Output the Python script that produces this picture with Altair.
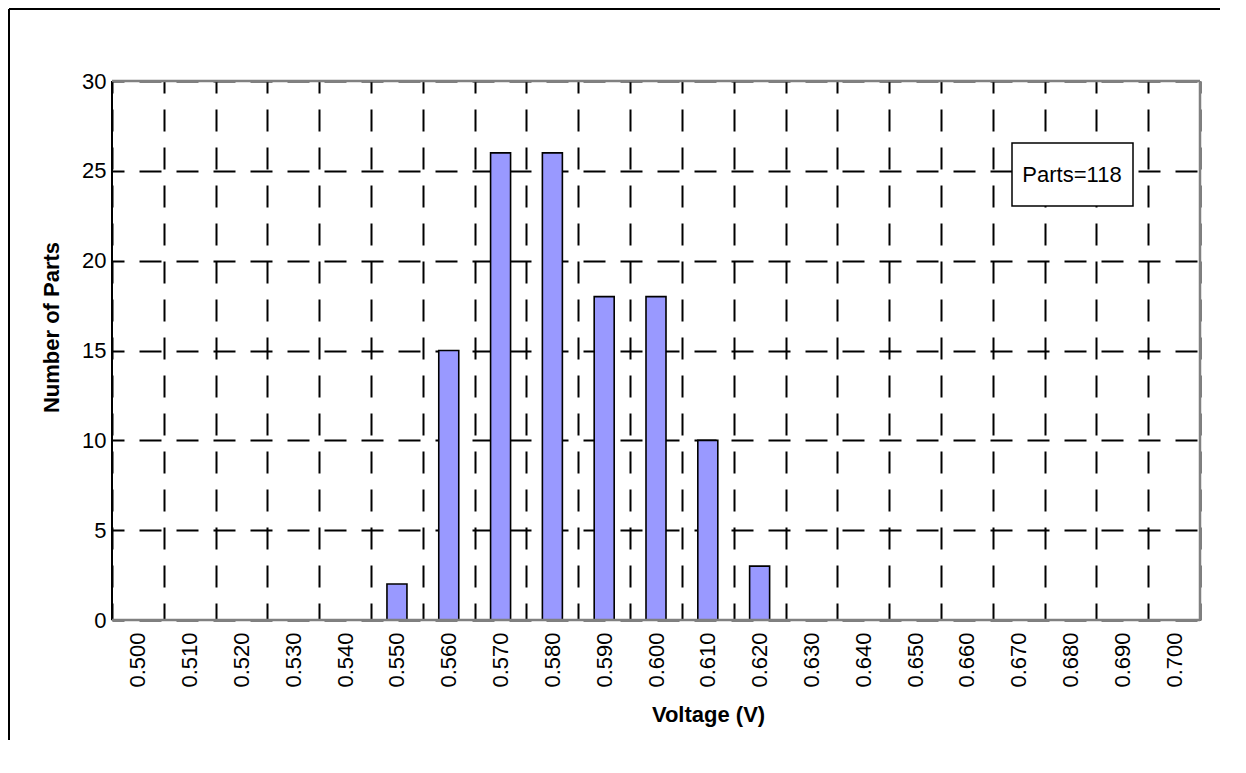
import altair as alt
import pandas as pd

# ---- data ----
voltages = ["0.500", "0.510", "0.520", "0.530", "0.540", "0.550", "0.560",
            "0.570", "0.580", "0.590", "0.600", "0.610", "0.620", "0.630",
            "0.640", "0.650", "0.660", "0.670", "0.680", "0.690", "0.700"]
counts = [0, 0, 0, 0, 0, 2, 15, 26, 26, 18, 18, 10, 3, 0, 0, 0, 0, 0, 0, 0, 0]
y_ticks = [0, 5, 10, 15, 20, 25, 30]
parts_label = "Parts=118"

W, H = 1088, 539
PAD = {"left": 104, "top": 73, "right": 20, "bottom": 120}
FONT = "Liberation Sans"

df = pd.DataFrame({"voltage": voltages, "count": counts})
one = pd.DataFrame({"k": [0]})

bars = alt.Chart(df).transform_filter("datum.count > 0").mark_bar(
    fill="#9999FF", stroke="black", strokeWidth=1.6, width=20
).encode(
    x=alt.X(
        "voltage:N",
        sort=voltages,
        scale=alt.Scale(domain=voltages, paddingInner=0, paddingOuter=0),
        axis=alt.Axis(
            title="Voltage (V)",
            labelAngle=-90, labelAlign="right", labelBaseline="middle",
            labelFontSize=22, labelFont=FONT, labelColor="black", labelPadding=12,
            tickBand="extent", grid=True, gridColor="black", gridWidth=2,
            gridDash=[22, 16], gridDashOffset=10, gridOpacity=1,
            ticks=False, domain=False,
            titleFont=FONT, titleFontSize=22, titleFontWeight="bold",
            titleColor="black", titleX=596, titleY=94,
            titleAlign="center", titleBaseline="middle",
        ),
    ),
    y=alt.Y(
        "count:Q",
        scale=alt.Scale(domain=[0, 30], nice=False),
        axis=alt.Axis(
            title="Number of Parts", values=y_ticks,
            labelFontSize=22, labelFont=FONT, labelColor="black", labelPadding=6,
            grid=True, gridColor="black", gridWidth=2,
            gridDash=[22, 15], gridDashOffset=10, gridOpacity=1,
            ticks=False, domain=False,
            titleFont=FONT, titleFontSize=22, titleFontWeight="bold",
            titleColor="black", titleAngle=-90, titleX=-61, titleY=246,
            titleAlign="center", titleBaseline="middle",
        ),
    ),
)

base1 = alt.Chart(one)
left_axis = base1.mark_rule(color="black", strokeWidth=2).encode(
    x=alt.value(0), y=alt.value(0), y2=alt.value(H))
top_border = base1.mark_rule(color="#808080", strokeWidth=2.5).encode(
    x=alt.value(0), x2=alt.value(W), y=alt.value(0))
right_border = base1.mark_rule(color="#808080", strokeWidth=2.5).encode(
    x=alt.value(W), y=alt.value(0), y2=alt.value(H))
bottom_border = base1.mark_rule(color="#808080", strokeWidth=2.5).encode(
    x=alt.value(0), x2=alt.value(W), y=alt.value(H))

frame_left = base1.mark_rule(color="black", strokeWidth=2).encode(
    x=alt.value(-103), y=alt.value(-72), y2=alt.value(H + PAD["bottom"]))
frame_top = base1.mark_rule(color="black", strokeWidth=2).encode(
    x=alt.value(-103), x2=alt.value(W + PAD["right"]), y=alt.value(-72))

box = base1.mark_rect(fill="white", stroke="black", strokeWidth=1.5).encode(
    x=alt.value(900), x2=alt.value(1021), y=alt.value(62), y2=alt.value(125))
box_text = base1.mark_text(
    text=parts_label, font=FONT, fontSize=22, color="black",
    align="center", baseline="middle"
).encode(x=alt.value(960), y=alt.value(94))

chart = alt.layer(
    bars, left_axis, top_border, right_border, bottom_border,
    frame_left, frame_top, box, box_text
).properties(
    width=W, height=H,
    autosize=alt.AutoSizeParams(type="none"),
    padding=PAD,
).configure_view(stroke=None).configure(background="white")

chart.save("out.html", embed_options={"renderer": "svg", "actions": False})
